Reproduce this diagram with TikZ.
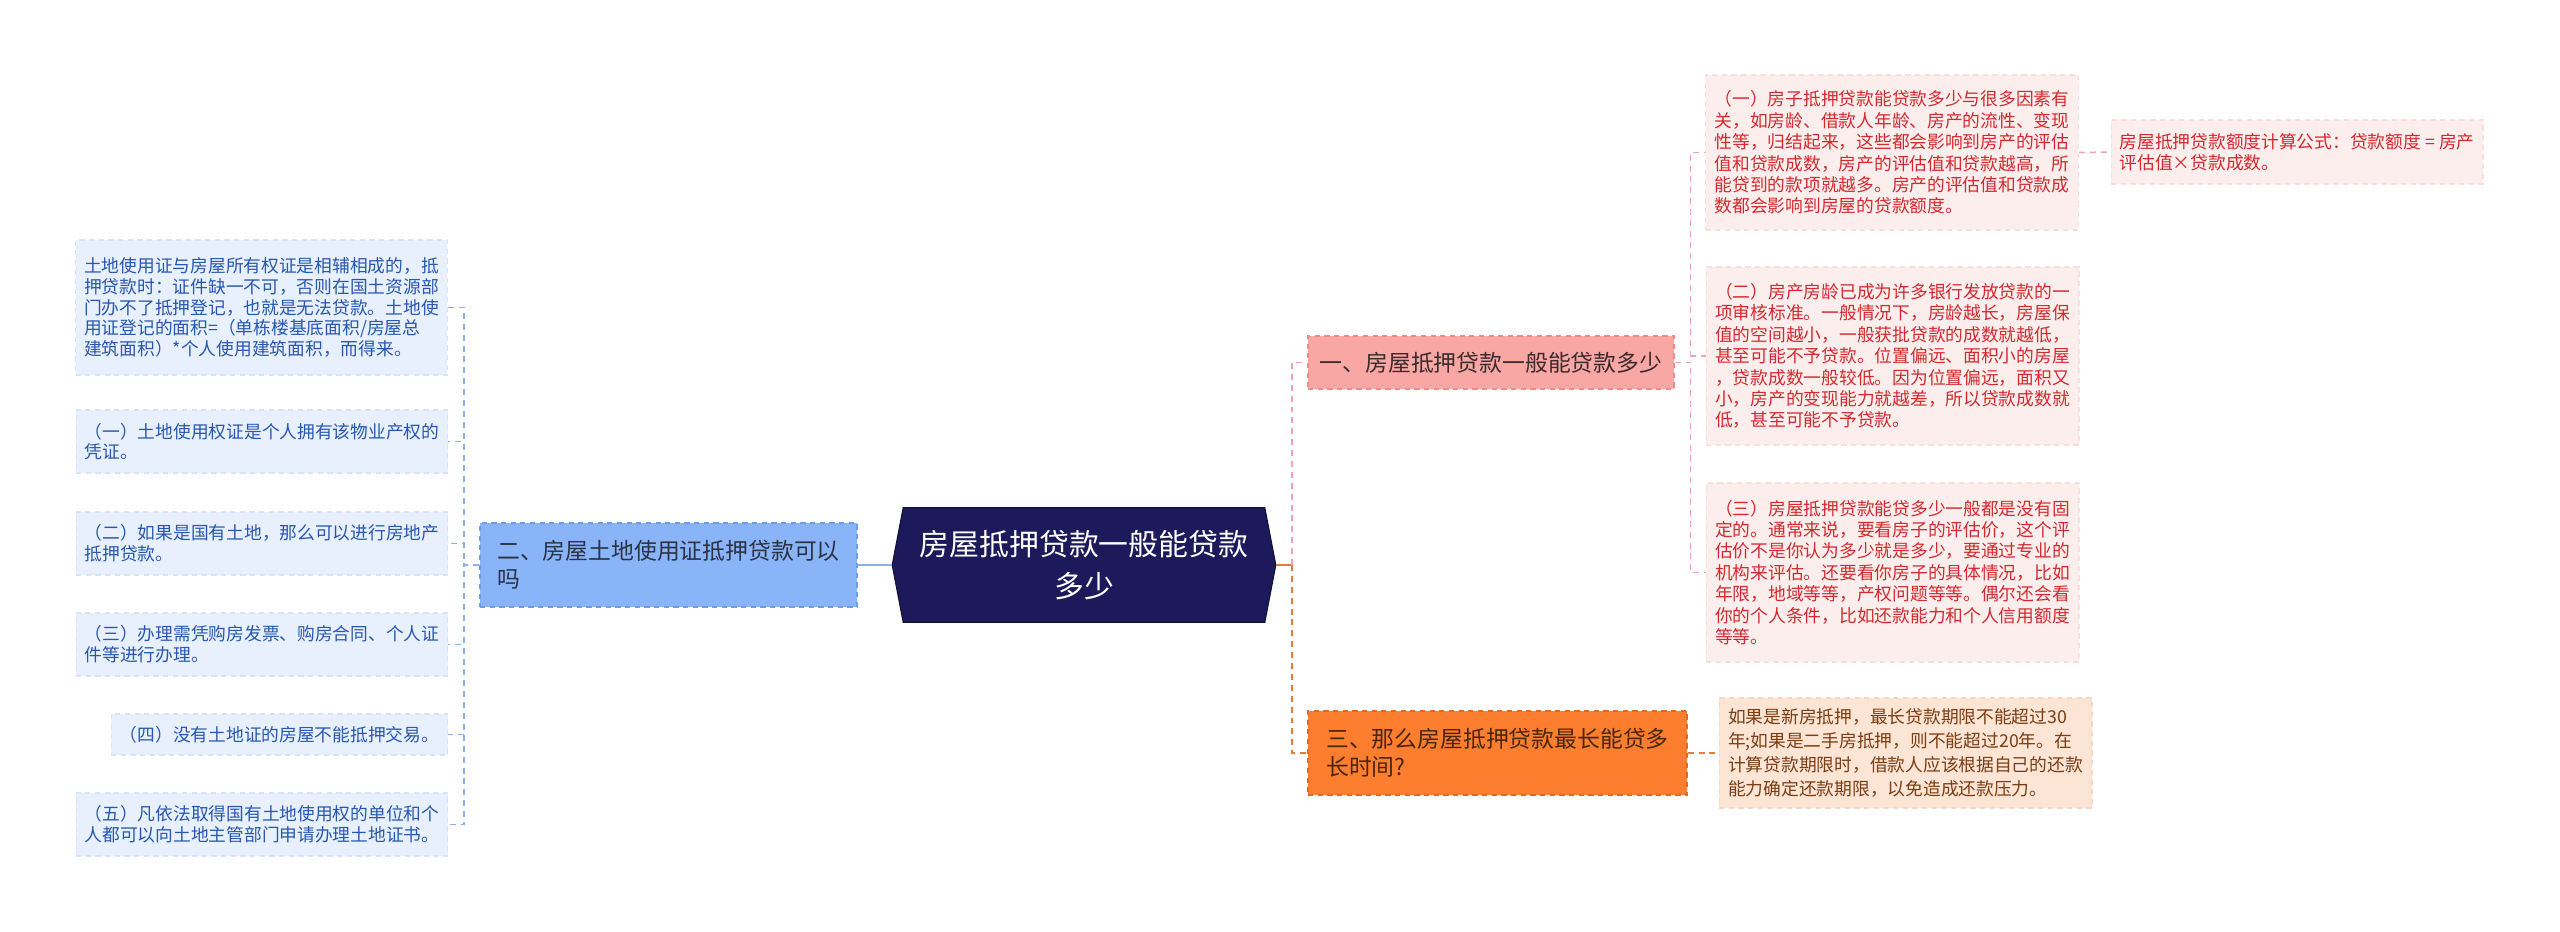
\documentclass[tikz,border=0pt]{standalone}
\usepackage{fontspec}
\usepackage{xcolor}
\newfontfamily\cjk{Noto Sans CJK SC}
\usetikzlibrary{positioning, backgrounds}

\definecolor{rootnavy}{HTML}{1D1A5C}
\definecolor{bluefill}{HTML}{8AB4F8}
\definecolor{blueedge}{HTML}{6D9DE8}
\definecolor{bluetext}{HTML}{2B3243}
\definecolor{leafbluefill}{HTML}{E8F0FD}
\definecolor{leafblueedge}{HTML}{D6E3F9}
\definecolor{leafbluetext}{HTML}{2757B0}
\definecolor{blueline}{HTML}{8CB0EA}
\definecolor{pinkfill}{HTML}{F8A7A5}
\definecolor{pinkedge}{HTML}{EE8B89}
\definecolor{pinktext}{HTML}{3B2B2B}
\definecolor{leafpinkfill}{HTML}{FDEEEE}
\definecolor{leafpinkedge}{HTML}{F9DEDE}
\definecolor{leafpinktext}{HTML}{D42A2F}
\definecolor{pinkline}{HTML}{EDA3B0}
\definecolor{orangefill}{HTML}{FD7E2F}
\definecolor{orangeedge}{HTML}{E36A1C}
\definecolor{orangetext}{HTML}{4A2508}
\definecolor{leaforangefill}{HTML}{FDE5D6}
\definecolor{leaforangeedge}{HTML}{F8D8C4}
\definecolor{leaforangetext}{HTML}{7B3D12}
\definecolor{orangeline}{HTML}{E87B3A}

\begin{document}
\begin{tikzpicture}[x=0.02cm, y=-0.02cm, font=\cjk]
\tikzstyle{box} = [rectangle, inner sep=0pt, align=left, dash pattern=on 3pt off 2.5pt, line width=0.6pt]
\tikzstyle{leafblue} = [box, minimum width=7.44cm, minimum height=1.26cm, fill=leafbluefill,
    draw=leafblueedge, text=leafbluetext, font=\cjk\fontsize{10.1}{11.8}\selectfont]
\tikzstyle{leafpink} = [box, minimum width=7.46cm, fill=leafpinkfill,
    draw=leafpinkedge, text=leafpinktext, font=\cjk\fontsize{10.1}{12.2}\selectfont]
\tikzstyle{leaforange} = [box, minimum width=7.46cm, fill=leaforangefill,
    draw=leaforangeedge, text=leaforangetext, font=\cjk\fontsize{10.1}{13.6}\selectfont]
\tikzstyle{branch} = [box, line width=0.8pt, font=\cjk\fontsize{13}{16}\selectfont]
\tikzstyle{link} = [line width=0.85pt, dash pattern=on 3.4pt off 2.8pt]
\useasboundingbox (0,0) rectangle (2560,932);

% centre
\node (root) [rectangle, minimum width=7.22cm, minimum height=2.28cm, text=white, align=center,
    font=\cjk\fontsize{17}{24}\selectfont] at (1084,565) {房屋抵押贷款一般能贷款\\多少};
\begin{scope}[on background layer]
\fill [rootnavy] (root.north west) -- (root.north east) -- ([xshift=0.22cm]root.east)
    -- (root.south east) -- (root.south west) -- ([xshift=-0.22cm]root.west) -- cycle;
\draw [rootnavy!60!black, line width=0.6pt] (root.north west) -- (root.north east) -- ([xshift=0.22cm]root.east)
    -- (root.south east) -- (root.south west) -- ([xshift=-0.22cm]root.west) -- cycle;
\end{scope}

% left side
\node (land) [branch, fill=bluefill, draw=blueedge, text=bluetext, minimum width=7.54cm,
    minimum height=1.68cm] at (668.5,565) {二、房屋土地使用证抵押贷款可以\\吗};

\node (lcert) [leafblue, minimum height=2.7cm] at (261.5,307.5) {土地使用证与房屋所有权证是相辅相成的，抵\\押贷款时：证件缺一不可，否则在国土资源部\\门办不了抵押登记，也就是无法贷款。土地使\\用证登记的面积=（单栋楼基底面积/房屋总\\建筑面积）*个人使用建筑面积，而得来。};
\node (lone)   [leafblue] at (262,441.5) {（一）土地使用权证是个人拥有该物业产权的\\凭证。};
\node (ltwo)   [leafblue] at (262,543.5) {（二）如果是国有土地，那么可以进行房地产\\抵押贷款。};
\node (lthree) [leafblue] at (262,644.5) {（三）办理需凭购房发票、购房合同、个人证\\件等进行办理。};
\node (lfour)  [leafblue, minimum width=6.74cm, minimum height=0.82cm] at (279.5,734.5) {（四）没有土地证的房屋不能抵押交易。};
\node (lfive)  [leafblue] at (262,824.5) {（五）凡依法取得国有土地使用权的单位和个\\人都可以向土地主管部门申请办理土地证书。};

% right side
\node (amount) [branch, fill=pinkfill, draw=pinkedge, text=pinktext, minimum width=7.32cm,
    minimum height=1.06cm] at (1491,362.5) {一、房屋抵押贷款一般能贷款多少};
\node (term) [branch, fill=orangefill, draw=orangeedge, text=orangetext, minimum width=7.58cm,
    minimum height=1.68cm] at (1497.5,753) {三、那么房屋抵押贷款最长能贷多\\长时间?};

\node (pone) [leafpink, minimum height=3.1cm] at (1892,152.5) {（一）房子抵押贷款能贷款多少与很多因素有\\关，如房龄、借款人年龄、房产的流性、变现\\性等，归结起来，这些都会影响到房产的评估\\值和贷款成数，房产的评估值和贷款越高，所\\能贷到的款项就越多。房产的评估值和贷款成\\数都会影响到房屋的贷款额度。};
\node (formula) [leafpink, minimum width=7.44cm, minimum height=1.28cm] at (2297,152) {房屋抵押贷款额度计算公式：贷款额度 = 房产\\评估值×贷款成数。};
\node (ptwo) [leafpink, minimum height=3.56cm] at (1892.5,356) {（二）房产房龄已成为许多银行发放贷款的一\\项审核标准。一般情况下，房龄越长，房屋保\\值的空间越小，一般获批贷款的成数就越低，\\甚至可能不予贷款。位置偏远、面积小的房屋\\，贷款成数一般较低。因为位置偏远，面积又\\小，房产的变现能力就越差，所以贷款成数就\\低，甚至可能不予贷款。};
\node (pthree) [leafpink, minimum height=3.58cm] at (1892.5,572.5) {（三）房屋抵押贷款能贷多少一般都是没有固\\定的。通常来说，要看房子的评估价，这个评\\估价不是你认为多少就是多少，要通过专业的\\机构来评估。还要看你房子的具体情况，比如\\年限，地域等等，产权问题等等。偶尔还会看\\你的个人条件，比如还款能力和个人信用额度\\等等。};
\node (oone) [leaforange, minimum height=2.2cm] at (1905.5,753) {如果是新房抵押，最长贷款期限不能超过30\\年;如果是二手房抵押，则不能超过20年。在\\计算贷款期限时，借款人应该根据自己的还款\\能力确定还款期限，以免造成还款压力。};

\coordinate (lbus) at (464,565);
\coordinate (rbus) at (1292,565);

% connectors
\draw [blueline, line width=1pt] ([xshift=-0.22cm]root.west) -- (land.east);
\draw [blueline, link] (land.west) -- (lbus) |- (lcert.east);
\draw [blueline, link] (land.west) -- (lbus) |- (lone.east);
\draw [blueline, link] (land.west) -- (lbus) |- (ltwo.east);
\draw [blueline, link] (land.west) -- (lbus) |- (lthree.east);
\draw [blueline, link] (land.west) -- (lbus) |- (lfour.east);
\draw [blueline, link] (land.west) -- (lbus) |- (lfive.east);

\draw [orangeline, line width=1.2pt] ([xshift=0.22cm]root.east) -- (rbus);
\draw [pinkline, link] (rbus) |- (amount.west);
\draw [orangeline, link, line width=1.1pt] (rbus) |- (term.west);

\draw [pinkline, link] (amount.east) -- ++(16,0) |- (pone.west);
\draw [pinkline, link] (amount.east) -- ++(16,0) |- (ptwo.west);
\draw [pinkline, link] (amount.east) -- ++(16,0) |- (pthree.west);
\draw [pinkline, link] (pone.east) -- (formula.west);
\draw [orangeline, link] (term.east) -- (oone.west);

\end{tikzpicture}
\end{document}
